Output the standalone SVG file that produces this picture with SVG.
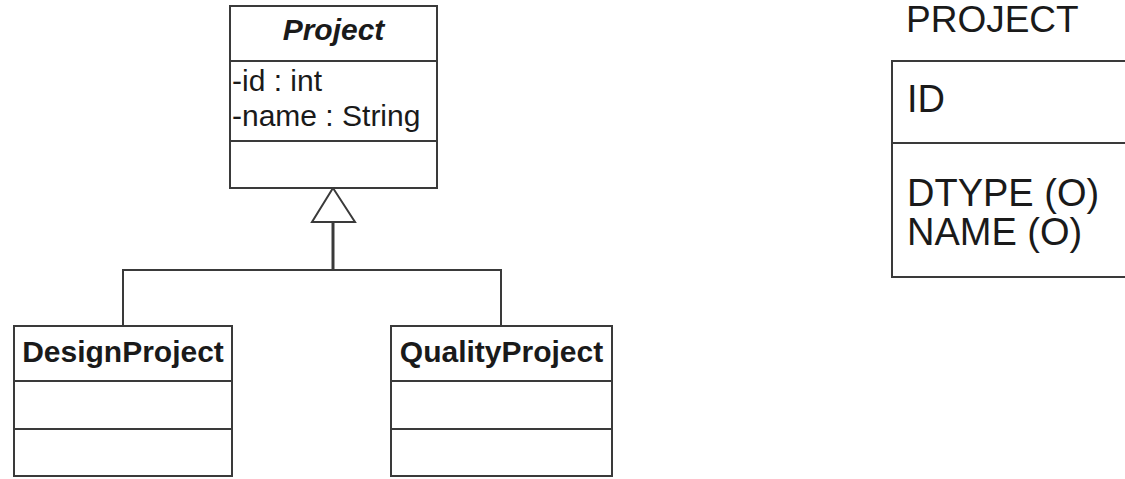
<svg xmlns="http://www.w3.org/2000/svg" width="1125" height="479" viewBox="0 0 1125 479">
  <style>
    .box { fill: #ffffff; stroke: #3a3a3a; stroke-width: 2; }
    .sep { stroke: #3a3a3a; stroke-width: 2; fill: none; }
    .link { stroke: #3a3a3a; stroke-width: 2; fill: none; }
    .uml { font-family: "Liberation Sans", Arial, sans-serif; font-size: 30px; fill: #1a1a1a; }
    .title { font-weight: bold; text-anchor: middle; }
    .abstract { font-style: italic; }
    .tbl { font-family: "Liberation Sans", Arial, sans-serif; font-size: 38px; fill: #1a1a1a; }
  </style>
  <rect width="1125" height="479" fill="#ffffff"/>

  <!-- generalisation connectors -->
  <g id="connectors">
    <polyline class="link" points="123,326 123,270 501,270 501,326"/>
    <line class="link" x1="333" y1="270" x2="333" y2="222" style="stroke-width:3"/>
    <polygon class="link" points="333,188 312,222 355,222" style="fill:#ffffff"/>
  </g>

  <!-- abstract class Project -->
  <g id="project">
    <rect class="box" x="230" y="6" width="207" height="182"/>
    <line class="sep" x1="230" y1="61" x2="437" y2="61"/>
    <line class="sep" x1="230" y1="141" x2="437" y2="141"/>
    <text class="uml title abstract" x="333.5" y="40">Project</text>
    <text class="uml" x="232" y="91">-id : int</text>
    <text class="uml" x="232" y="126">-name : String</text>
  </g>

  <!-- subclass DesignProject -->
  <g id="design-project">
    <rect class="box" x="14" y="326" width="218" height="150"/>
    <line class="sep" x1="14" y1="381" x2="232" y2="381"/>
    <line class="sep" x1="14" y1="429" x2="232" y2="429"/>
    <text class="uml title" x="123" y="362">DesignProject</text>
  </g>

  <!-- subclass QualityProject -->
  <g id="quality-project">
    <rect class="box" x="391" y="326" width="221" height="150"/>
    <line class="sep" x1="391" y1="381" x2="612" y2="381"/>
    <line class="sep" x1="391" y1="429" x2="612" y2="429"/>
    <text class="uml title" x="501.5" y="362">QualityProject</text>
  </g>

  <!-- PROJECT table -->
  <g id="project-table">
    <text class="tbl" x="906" y="32" style="font-size:37px">PROJECT</text>
    <rect class="box" x="892" y="61" width="260" height="216"/>
    <line class="sep" x1="892" y1="143" x2="1125" y2="143"/>
    <text class="tbl" x="907" y="112">ID</text>
    <text class="tbl" x="907" y="206">DTYPE (O)</text>
    <text class="tbl" x="907" y="245">NAME (O)</text>
  </g>
</svg>
